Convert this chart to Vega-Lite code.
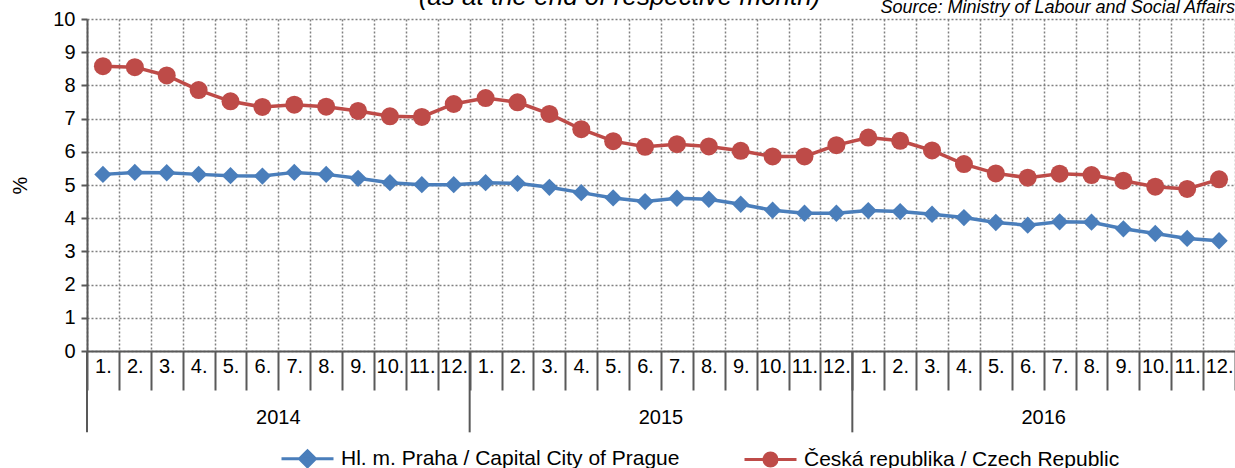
{
  "$schema": "https://vega.github.io/schema/vega-lite/v6.json",
  "width": 1148,
  "height": 332,
  "autosize": {"type": "none"},
  "padding": {"left": 87, "top": 19, "right": 0, "bottom": 117},
  "background": "white",
  "config": {
    "font": "Liberation Sans",
    "view": {"stroke": null},
    "axis": {
      "labelColor": "#000000",
      "titleColor": "#000000",
      "domainColor": "#595959",
      "domainWidth": 2,
      "tickColor": "#595959",
      "tickWidth": 2,
      "gridColor": "#808080",
      "gridDash": [2, 2],
      "gridWidth": 1.5
    }
  },
  "data": {
    "values": [
      {"i": 1, "s": "Hl. m. Praha / Capital City of Prague", "v": 5.32},
      {"i": 2, "s": "Hl. m. Praha / Capital City of Prague", "v": 5.38},
      {"i": 3, "s": "Hl. m. Praha / Capital City of Prague", "v": 5.37},
      {"i": 4, "s": "Hl. m. Praha / Capital City of Prague", "v": 5.32},
      {"i": 5, "s": "Hl. m. Praha / Capital City of Prague", "v": 5.28},
      {"i": 6, "s": "Hl. m. Praha / Capital City of Prague", "v": 5.27},
      {"i": 7, "s": "Hl. m. Praha / Capital City of Prague", "v": 5.38},
      {"i": 8, "s": "Hl. m. Praha / Capital City of Prague", "v": 5.32},
      {"i": 9, "s": "Hl. m. Praha / Capital City of Prague", "v": 5.20},
      {"i": 10, "s": "Hl. m. Praha / Capital City of Prague", "v": 5.07},
      {"i": 11, "s": "Hl. m. Praha / Capital City of Prague", "v": 5.01},
      {"i": 12, "s": "Hl. m. Praha / Capital City of Prague", "v": 5.01},
      {"i": 13, "s": "Hl. m. Praha / Capital City of Prague", "v": 5.07},
      {"i": 14, "s": "Hl. m. Praha / Capital City of Prague", "v": 5.05},
      {"i": 15, "s": "Hl. m. Praha / Capital City of Prague", "v": 4.93},
      {"i": 16, "s": "Hl. m. Praha / Capital City of Prague", "v": 4.77},
      {"i": 17, "s": "Hl. m. Praha / Capital City of Prague", "v": 4.61},
      {"i": 18, "s": "Hl. m. Praha / Capital City of Prague", "v": 4.50},
      {"i": 19, "s": "Hl. m. Praha / Capital City of Prague", "v": 4.60},
      {"i": 20, "s": "Hl. m. Praha / Capital City of Prague", "v": 4.57},
      {"i": 21, "s": "Hl. m. Praha / Capital City of Prague", "v": 4.42},
      {"i": 22, "s": "Hl. m. Praha / Capital City of Prague", "v": 4.24},
      {"i": 23, "s": "Hl. m. Praha / Capital City of Prague", "v": 4.15},
      {"i": 24, "s": "Hl. m. Praha / Capital City of Prague", "v": 4.15},
      {"i": 25, "s": "Hl. m. Praha / Capital City of Prague", "v": 4.23},
      {"i": 26, "s": "Hl. m. Praha / Capital City of Prague", "v": 4.20},
      {"i": 27, "s": "Hl. m. Praha / Capital City of Prague", "v": 4.12},
      {"i": 28, "s": "Hl. m. Praha / Capital City of Prague", "v": 4.02},
      {"i": 29, "s": "Hl. m. Praha / Capital City of Prague", "v": 3.87},
      {"i": 30, "s": "Hl. m. Praha / Capital City of Prague", "v": 3.79},
      {"i": 31, "s": "Hl. m. Praha / Capital City of Prague", "v": 3.89},
      {"i": 32, "s": "Hl. m. Praha / Capital City of Prague", "v": 3.88},
      {"i": 33, "s": "Hl. m. Praha / Capital City of Prague", "v": 3.68},
      {"i": 34, "s": "Hl. m. Praha / Capital City of Prague", "v": 3.54},
      {"i": 35, "s": "Hl. m. Praha / Capital City of Prague", "v": 3.39},
      {"i": 36, "s": "Hl. m. Praha / Capital City of Prague", "v": 3.32},
      {"i": 1, "s": "Česká republika / Czech Republic", "v": 8.58},
      {"i": 2, "s": "Česká republika / Czech Republic", "v": 8.55},
      {"i": 3, "s": "Česká republika / Czech Republic", "v": 8.30},
      {"i": 4, "s": "Česká republika / Czech Republic", "v": 7.86},
      {"i": 5, "s": "Česká republika / Czech Republic", "v": 7.52},
      {"i": 6, "s": "Česká republika / Czech Republic", "v": 7.35},
      {"i": 7, "s": "Česká republika / Czech Republic", "v": 7.42},
      {"i": 8, "s": "Česká republika / Czech Republic", "v": 7.36},
      {"i": 9, "s": "Česká republika / Czech Republic", "v": 7.23},
      {"i": 10, "s": "Česká republika / Czech Republic", "v": 7.07},
      {"i": 11, "s": "Česká republika / Czech Republic", "v": 7.05},
      {"i": 12, "s": "Česká republika / Czech Republic", "v": 7.44},
      {"i": 13, "s": "Česká republika / Czech Republic", "v": 7.62},
      {"i": 14, "s": "Česká republika / Czech Republic", "v": 7.49},
      {"i": 15, "s": "Česká republika / Czech Republic", "v": 7.14},
      {"i": 16, "s": "Česká republika / Czech Republic", "v": 6.68},
      {"i": 17, "s": "Česká republika / Czech Republic", "v": 6.32},
      {"i": 18, "s": "Česká republika / Czech Republic", "v": 6.15},
      {"i": 19, "s": "Česká republika / Czech Republic", "v": 6.23},
      {"i": 20, "s": "Česká republika / Czech Republic", "v": 6.16},
      {"i": 21, "s": "Česká republika / Czech Republic", "v": 6.03},
      {"i": 22, "s": "Česká republika / Czech Republic", "v": 5.86},
      {"i": 23, "s": "Česká republika / Czech Republic", "v": 5.86},
      {"i": 24, "s": "Česká republika / Czech Republic", "v": 6.20},
      {"i": 25, "s": "Česká republika / Czech Republic", "v": 6.43},
      {"i": 26, "s": "Česká republika / Czech Republic", "v": 6.33},
      {"i": 27, "s": "Česká republika / Czech Republic", "v": 6.04},
      {"i": 28, "s": "Česká republika / Czech Republic", "v": 5.63},
      {"i": 29, "s": "Česká republika / Czech Republic", "v": 5.35},
      {"i": 30, "s": "Česká republika / Czech Republic", "v": 5.22},
      {"i": 31, "s": "Česká republika / Czech Republic", "v": 5.34},
      {"i": 32, "s": "Česká republika / Czech Republic", "v": 5.30},
      {"i": 33, "s": "Česká republika / Czech Republic", "v": 5.13},
      {"i": 34, "s": "Česká republika / Czech Republic", "v": 4.95},
      {"i": 35, "s": "Česká republika / Czech Republic", "v": 4.88},
      {"i": 36, "s": "Česká republika / Czech Republic", "v": 5.17}
    ]
  },
  "encoding": {
    "x": {
      "field": "i",
      "type": "quantitative",
      "scale": {"domain": [0.5, 36.5], "nice": false, "zero": false},
      "axis": {
        "orient": "bottom",
        "title": null,
        "values": [0.5, 1.5, 2.5, 3.5, 4.5, 5.5, 6.5, 7.5, 8.5, 9.5, 10.5, 11.5, 12.5, 13.5, 14.5, 15.5, 16.5, 17.5, 18.5, 19.5, 20.5, 21.5, 22.5, 23.5, 24.5, 25.5, 26.5, 27.5, 28.5, 29.5, 30.5, 31.5, 32.5, 33.5, 34.5, 35.5, 36.5],
        "tickSize": 39,
        "labelPadding": -34,
        "labelOffset": -15.94,
        "labelFontSize": 20,
        "labelBaseline": "top",
        "labelAlign": "center",
        "labelAngle": 0,
        "labelOverlap": false,
        "labelFlush": false,
        "labelBound": false,
        "labelExpr": "datum.value < 1 ? '' : ((round(datum.value - 0.5) - 1) % 12 + 1) + '.'",
        "grid": true,
        "domain": true
      }
    },
    "y": {
      "field": "v",
      "type": "quantitative",
      "scale": {"domain": [0, 10], "nice": false},
      "axis": {
        "values": [0, 1, 2, 3, 4, 5, 6, 7, 8, 9, 10],
        "labelFontSize": 20,
        "tickSize": 6,
        "labelPadding": 6,
        "grid": true,
        "domain": true,
        "title": "%",
        "titleFontSize": 20,
        "titleFontWeight": "normal",
        "titlePadding": 22
      }
    }
  },
  "layer": [
    {
      "data": {"values": [
        {"i": 0.5, "v": 0, "v2": -2.45},
        {"i": 12.5, "v": 0, "v2": -2.45},
        {"i": 24.5, "v": 0, "v2": -2.45}
      ]},
      "mark": {"type": "rule", "color": "#595959", "strokeWidth": 2},
      "encoding": {
        "y2": {"field": "v2"}
      }
    },
    {
      "mark": {"type": "line", "strokeWidth": 3.5},
      "encoding": {
        "color": {
          "field": "s",
          "type": "nominal",
          "scale": {
            "domain": ["Hl. m. Praha / Capital City of Prague", "Česká republika / Czech Republic"],
            "range": ["#4A7EBB", "#BE4B48"]
          },
          "legend": {
            "orient": "none",
            "direction": "horizontal",
            "legendX": 209,
            "legendY": 428,
            "title": null,
            "padding": 0,
            "labelFontSize": 21,
            "labelColor": "#000000",
            "labelOffset": 22,
            "columnPadding": 58,
            "symbolSize": 400,
            "symbolStrokeWidth": 3,
            "labelLimit": 600,
            "encode": {
              "symbols": {
                "update": {
                  "shape": {"signal": "indexof(datum.value, 'Praha') >= 0 ? 'M-2.6,0L2.6,0M-0.8,0L0,-0.8L0.8,0L0,0.8Z' : 'M-2.6,0L2.6,0M-0.65,0A0.65,0.65,0,1,0,0.65,0A0.65,0.65,0,1,0,-0.65,0Z'"},
                  "fill": {"signal": "indexof(datum.value, 'Praha') >= 0 ? '#4A7EBB' : '#BE4B48'"},
                  "stroke": {"signal": "indexof(datum.value, 'Praha') >= 0 ? '#4A7EBB' : '#BE4B48'"},
                  "strokeWidth": {"value": 3},
                  "opacity": {"value": 1}
                }
              }
            }
          }
        }
      }
    },
    {
      "transform": [{"filter": "indexof(datum.s, 'Praha') >= 0"}],
      "mark": {"type": "point", "shape": "diamond", "filled": true, "size": 300, "opacity": 1},
      "encoding": {
        "color": {"field": "s", "type": "nominal"}
      }
    },
    {
      "transform": [{"filter": "indexof(datum.s, 'Praha') < 0"}],
      "mark": {"type": "point", "shape": "circle", "filled": true, "size": 324, "opacity": 1},
      "encoding": {
        "color": {"field": "s", "type": "nominal"}
      }
    },
    {
      "data": {"values": [
        {"i": 6.5, "yr": "2014", "v": -2.02},
        {"i": 18.5, "yr": "2015", "v": -2.02},
        {"i": 30.5, "yr": "2016", "v": -2.02}
      ]},
      "mark": {"type": "text", "fontSize": 20, "baseline": "middle", "align": "center", "color": "#000000"},
      "encoding": {
        "text": {"field": "yr"}
      }
    },
    {
      "data": {"values": [
        {"i": 36.5, "v": 10.18, "t": "Source: Ministry of Labour and Social Affairs"}
      ]},
      "mark": {"type": "text", "fontSize": 18, "fontStyle": "italic", "baseline": "alphabetic", "align": "right", "color": "#000000"},
      "encoding": {
        "text": {"field": "t"}
      }
    },
    {
      "data": {"values": [
        {"i": 17.2, "v": 10.42, "t": "(as at the end of respective month)"}
      ]},
      "mark": {"type": "text", "fontSize": 26, "fontStyle": "italic", "baseline": "alphabetic", "align": "center", "color": "#000000"},
      "encoding": {
        "text": {"field": "t"}
      }
    }
  ]
}
